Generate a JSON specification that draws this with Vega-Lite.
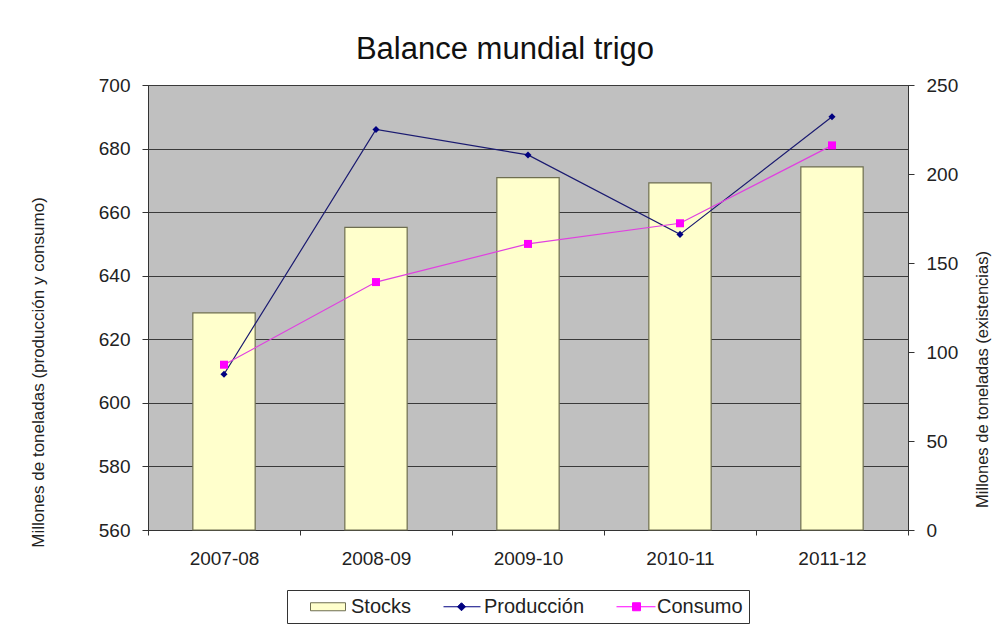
{
  "$schema": "https://vega.github.io/schema/vega-lite/v6.json",
  "width": 760,
  "height": 445,
  "autosize": {"type": "none"},
  "padding": {"left": 148, "top": 85, "right": 88, "bottom": 95},
  "background": "white",
  "config": {
    "font": "Liberation Sans",
    "view": {"fill": "#C0C0C0", "stroke": "#3a3a3a", "strokeWidth": 1},
    "axis": {
      "labelFont": "Liberation Sans",
      "labelFontSize": 19,
      "labelColor": "#222222",
      "domainColor": "#333333",
      "tickColor": "#333333",
      "titleFont": "Liberation Sans",
      "titleFontSize": 16,
      "titleFontWeight": "normal",
      "titleColor": "#222222"
    }
  },
  "title": {
    "text": "Balance mundial trigo",
    "font": "Liberation Sans",
    "fontSize": 31,
    "fontWeight": "normal",
    "color": "#111111",
    "anchor": "middle",
    "frame": "group",
    "dx": -23,
    "dy": 41,
    "offset": 27,
    "baseline": "alphabetic"
  },
  "data": {
    "values": [
      {"campana": "2007-08", "Stocks": 122, "Produccion": 609, "Consumo": 612},
      {"campana": "2008-09", "Stocks": 170, "Produccion": 686, "Consumo": 638},
      {"campana": "2009-10", "Stocks": 198, "Produccion": 678, "Consumo": 650},
      {"campana": "2010-11", "Stocks": 195, "Produccion": 653, "Consumo": 656.5},
      {"campana": "2011-12", "Stocks": 204, "Produccion": 690, "Consumo": 681}
    ]
  },
  "encoding": {
    "x": {
      "field": "campana",
      "type": "nominal",
      "sort": null,
      "scale": {"paddingInner": 0, "paddingOuter": 0},
      "axis": {
        "title": null,
        "labelAngle": 0,
        "tickBand": "extent",
        "tickSize": 5,
        "labelPadding": 14
      }
    }
  },
  "layer": [
    {
      "mark": {"type": "bar", "width": {"band": 0.41}, "stroke": "#6E6E50", "strokeWidth": 1.2},
      "encoding": {
        "y": {
          "field": "Stocks",
          "type": "quantitative",
          "scale": {"domain": [0, 250], "nice": false},
          "axis": {
            "orient": "right",
            "values": [0, 50, 100, 150, 200, 250],
            "grid": false,
            "tickSize": 6,
            "labelPadding": 12,
            "title": "Millones de toneladas (existencias)",
            "titleFontSize": 16.5,
            "titleAngle": -90,
            "titleX": 74,
            "titleY": 294,
            "titleAlign": "center",
            "titleBaseline": "middle"
          }
        },
        "color": {
          "datum": "Stocks",
          "type": "nominal",
          "scale": {"domain": ["Stocks", "Producción", "Consumo"], "range": ["#FFFFCC", "#000080", "#FF00FF"]},
          "legend": {
            "title": null,
            "orient": "none",
            "legendX": 139,
            "legendY": 505,
            "direction": "horizontal",
            "strokeColor": "#333333",
            "fillColor": "#FFFFFF",
            "padding": 6,
            "labelFont": "Liberation Sans",
            "labelFontSize": 20,
            "labelColor": "#222222",
            "symbolSize": 400,
            "labelOffset": 37,
            "columnPadding": 14,
            "symbolStrokeWidth": 1,
            "encoding": {
              "symbols": {
                "shape": {"value": {"expr": "datum.value === 'Stocks' ? 'M0.7,-0.4H4.2V0.4H0.7Z' : datum.value === 'Producción' ? 'M0.7,0H4.4M2.1,0L2.5,-0.4L2.9,0L2.5,0.4Z' : 'M0.7,0H4.6M2.3,-0.4H3.1V0.4H2.3Z'"}},
                "fill": {"value": {"expr": "datum.value === 'Stocks' ? '#FFFFCC' : datum.value === 'Producción' ? '#000080' : '#FF00FF'"}},
                "stroke": {"value": {"expr": "datum.value === 'Stocks' ? '#6E6E50' : datum.value === 'Producción' ? '#000080' : '#FF00FF'"}},
                "fillOpacity": {"value": 1},
                "strokeOpacity": {"value": 1},
                "opacity": {"value": 1}
              }
            }
          }
        }
      }
    },
    {
      "mark": {"type": "line", "color": "#1a1a70", "strokeWidth": 1.2},
      "encoding": {
        "y": {
          "field": "Produccion",
          "type": "quantitative",
          "scale": {"domain": [560, 700], "nice": false, "zero": false},
          "axis": {
            "orient": "left",
            "values": [560, 580, 600, 620, 640, 660, 680, 700],
            "grid": true,
            "gridColor": "#3a3a3a",
            "gridWidth": 1,
            "tickSize": 6,
            "labelPadding": 12,
            "title": "Millones de toneladas (producción y consumo)",
            "titleFontSize": 17,
            "titleAngle": -90,
            "titleX": -110,
            "titleY": 287,
            "titleAlign": "center",
            "titleBaseline": "middle"
          }
        }
      }
    },
    {
      "mark": {"type": "point", "shape": "diamond", "filled": true, "size": 50, "opacity": 1},
      "encoding": {
        "y": {"field": "Produccion", "type": "quantitative", "scale": {"domain": [560, 700], "nice": false, "zero": false}, "axis": null},
        "color": {"datum": "Producción", "type": "nominal"}
      }
    },
    {
      "mark": {"type": "line", "color": "#E040E0", "strokeWidth": 1.2},
      "encoding": {
        "y": {"field": "Consumo", "type": "quantitative", "scale": {"domain": [560, 700], "nice": false, "zero": false}, "axis": null}
      }
    },
    {
      "mark": {"type": "point", "shape": "square", "filled": true, "size": 64, "opacity": 1},
      "encoding": {
        "y": {"field": "Consumo", "type": "quantitative", "scale": {"domain": [560, 700], "nice": false, "zero": false}, "axis": null},
        "color": {"datum": "Consumo", "type": "nominal"}
      }
    }
  ],
  "resolve": {"scale": {"y": "independent"}}
}
